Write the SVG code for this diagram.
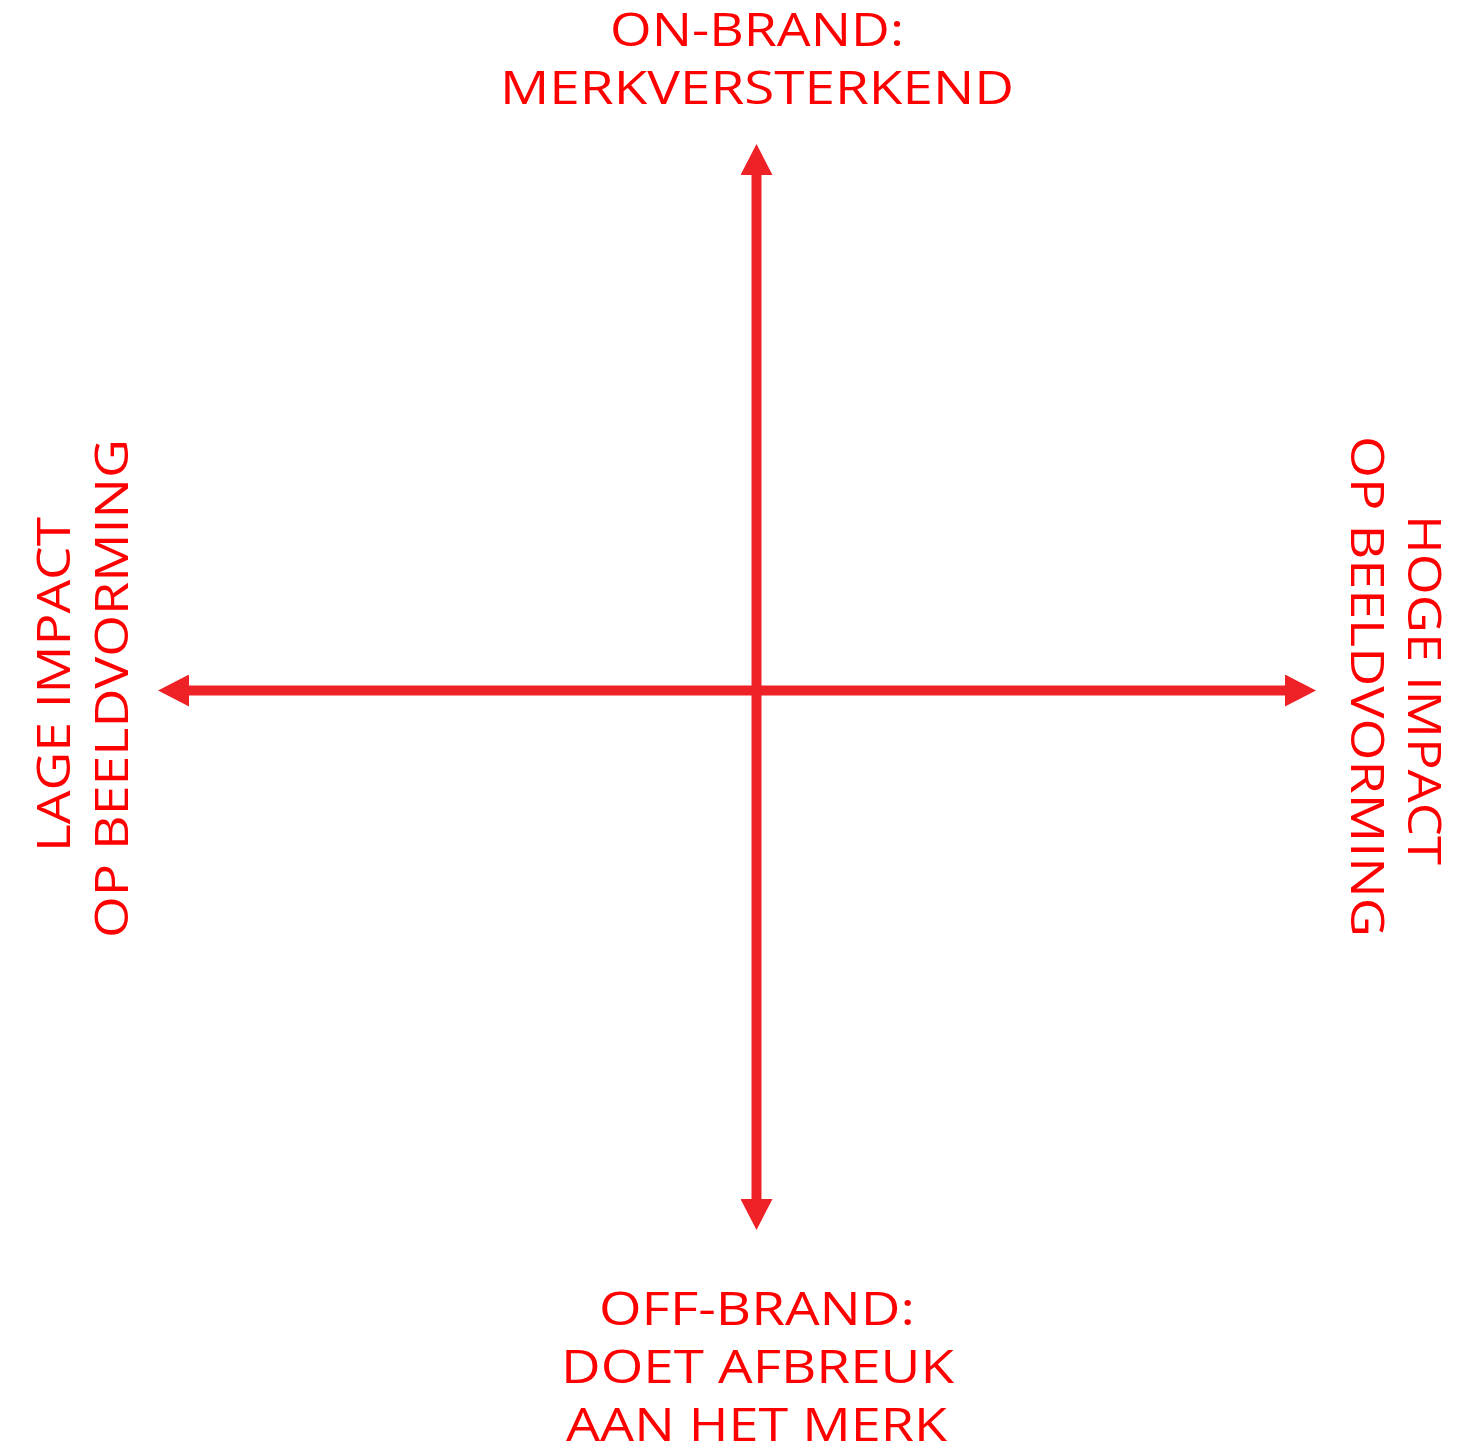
<svg xmlns="http://www.w3.org/2000/svg" width="1473" height="1443" viewBox="0 0 1473 1443">
  <style>
    .lbl { font-family: "Open Sans", "Liberation Sans", sans-serif; font-size: 46px; fill: #ff0000; text-anchor: middle; }
    .axis { stroke: #ee2226; stroke-width: 10; fill: none; }
  </style>
  <defs>
    <marker id="head" viewBox="0 0 32 32" refX="1" refY="16" markerWidth="32" markerHeight="32" markerUnits="userSpaceOnUse" orient="auto-start-reverse">
      <path d="M0,0 L31,16 L0,32 Z" fill="#ee2226"/>
    </marker>
  </defs>
  <rect width="1473" height="1443" fill="#ffffff"/>
  <g id="connectors">
    <line class="axis" x1="756.5" y1="174" x2="756.5" y2="1200" marker-start="url(#head)" marker-end="url(#head)"/>
    <line class="axis" x1="188" y1="690.5" x2="1286" y2="690.5" marker-start="url(#head)" marker-end="url(#head)"/>
  </g>
  <g id="top">
    <text class="lbl" x="757" y="46" textLength="294" lengthAdjust="spacingAndGlyphs">ON-BRAND:</text>
    <text class="lbl" x="757" y="104" textLength="514" lengthAdjust="spacingAndGlyphs">MERKVERSTERKEND</text>
  </g>
  <g id="bottom">
    <text class="lbl" x="757" y="1325" textLength="316" lengthAdjust="spacingAndGlyphs">OFF-BRAND:</text>
    <text class="lbl" x="757.5" y="1383" textLength="393" lengthAdjust="spacingAndGlyphs">DOET AFBREUK</text>
    <text class="lbl" x="756.5" y="1441" textLength="381" lengthAdjust="spacingAndGlyphs">AAN HET MERK</text>
  </g>
  <g id="left">
    <text class="lbl" transform="translate(70,684.5) rotate(-90)" x="0" y="0" textLength="335" lengthAdjust="spacingAndGlyphs">LAGE IMPACT</text>
    <text class="lbl" transform="translate(128,688.5) rotate(-90)" x="0" y="0" textLength="499" lengthAdjust="spacingAndGlyphs">OP BEELDVORMING</text>
  </g>
  <g id="right">
    <text class="lbl" transform="translate(1408,690) rotate(90)" x="0" y="0" textLength="350" lengthAdjust="spacingAndGlyphs">HOGE IMPACT</text>
    <text class="lbl" transform="translate(1351,686.5) rotate(90)" x="0" y="0" textLength="501" lengthAdjust="spacingAndGlyphs">OP BEELDVORMING</text>
  </g>
</svg>
